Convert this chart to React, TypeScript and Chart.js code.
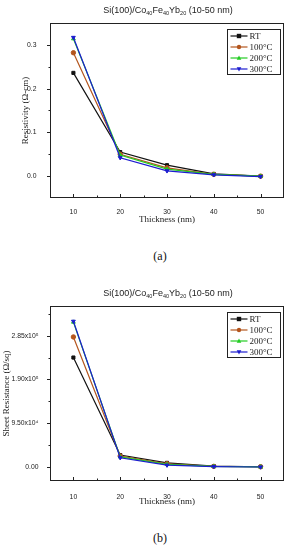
import React, { useEffect, useRef } from 'react';
import { Chart, registerables } from 'chart.js';

Chart.register(...registerables);

// ---------- data ----------
const thickness = [10, 20, 30, 40, 50];
const seriesNames = ['RT', '100°C', '200°C', '300°C'];
const seriesColors = ['#111111', '#b4561e', '#22cc22', '#1c1cd0'];
const seriesMarkers = ['rect', 'circle', 'triangle', 'triangle'];
const seriesRotation = [0, 0, 0, 180];

const resistivityRT = [0.236, 0.055, 0.025, 0.005, 0.0];
const resistivity100 = [0.282, 0.05, 0.019, 0.004, 0.0];
const resistivity200 = [0.314, 0.048, 0.016, 0.004, 0.0];
const resistivity300 = [0.317, 0.042, 0.012, 0.003, -0.001];

const sheetRT = [237800, 25500, 8500, 1200, 0];
const sheet100 = [282600, 23500, 6500, 900, 0];
const sheet200 = [315000, 21500, 5000, 700, -300];
const sheet300 = [316700, 19600, 3500, 500, -500];

const xMajorTicks = [10, 20, 30, 40, 50];
const xMinorTicks = [15, 25, 35, 45];

const resistivityTicks = [0, 0.1, 0.2, 0.3];
const resistivityTickLabels = ['0.0', '0.1', '0.2', '0.3'];
const resistivityMinor = [0.05, 0.15, 0.25];

const sheetTicks = [0, 95000, 190000, 285000];
const sheetTickLabels = ['0.00', '9.50x10⁴', '1.90x10⁵', '2.85x10⁵'];
const sheetMinor = [47500, 142500, 237500, 332500];

// ---------- helpers ----------
function drawMarker(ctx: CanvasRenderingContext2D, style: string, rot: number, x: number, y: number, r: number) {
  ctx.beginPath();
  if (style === 'rect') {
    ctx.rect(x - r, y - r, 2 * r, 2 * r);
  } else if (style === 'circle') {
    ctx.arc(x, y, r, 0, Math.PI * 2);
  } else {
    const s = rot === 180 ? -1 : 1;
    ctx.moveTo(x, y - s * r * 1.1);
    ctx.lineTo(x - r * 1.05, y + s * r * 0.75);
    ctx.lineTo(x + r * 1.05, y + s * r * 0.75);
    ctx.closePath();
  }
  ctx.fill();
}

const framePlugin = {
  id: 'frameTicks',
  afterDatasetsDraw(chart: any, _args: any, opts: any) {
    const { ctx, chartArea: a, scales } = chart;
    ctx.save();
    ctx.strokeStyle = '#222';
    ctx.lineWidth = 1;
    const L = Math.round(a.left) + 0.5;
    const R = Math.round(a.right) - 0.5;
    const T = Math.round(a.top) + 0.5;
    const B = Math.round(a.bottom) - 0.5;
    ctx.strokeRect(L, T, R - L, B - T);
    ctx.beginPath();
    (opts.xMajor || []).forEach((v: number) => {
      const px = Math.round(scales.x.getPixelForValue(v)) + 0.5;
      ctx.moveTo(px, B);
      ctx.lineTo(px, B - 3.5);
    });
    (opts.xMinor || []).forEach((v: number) => {
      const px = Math.round(scales.x.getPixelForValue(v)) + 0.5;
      ctx.moveTo(px, B);
      ctx.lineTo(px, B - 2);
    });
    (opts.yMajor || []).forEach((v: number) => {
      const py = Math.round(scales.y.getPixelForValue(v)) + 0.5;
      ctx.moveTo(L, py);
      ctx.lineTo(L - 3.5, py);
    });
    (opts.yMinor || []).forEach((v: number) => {
      const py = Math.round(scales.y.getPixelForValue(v)) + 0.5;
      ctx.moveTo(L, py);
      ctx.lineTo(L - 2, py);
    });
    ctx.stroke();
    ctx.restore();
  },
};

const boxLegendPlugin = {
  id: 'boxLegend',
  afterDraw(chart: any) {
    const { ctx, chartArea: a } = chart;
    const w = 53;
    const h = 45;
    const left = Math.round(a.right - 4 - w) + 0.5;
    const top = Math.round(a.top + 6) + 0.5;
    ctx.save();
    ctx.fillStyle = '#ffffff';
    ctx.fillRect(left, top, w, h);
    ctx.strokeStyle = '#222';
    ctx.lineWidth = 1;
    ctx.strokeRect(left, top, w, h);
    ctx.font = '9px "Liberation Serif", "Times New Roman", serif';
    ctx.textBaseline = 'middle';
    ctx.textAlign = 'left';
    chart.data.datasets.forEach((ds: any, i: number) => {
      const y = top + 6.5 + i * 11;
      const color = seriesColors[i];
      ctx.strokeStyle = color;
      ctx.fillStyle = color;
      ctx.lineWidth = 1.2;
      ctx.beginPath();
      ctx.moveTo(left + 3, y);
      ctx.lineTo(left + 20, y);
      ctx.stroke();
      drawMarker(ctx, seriesMarkers[i], seriesRotation[i], left + 11.5, y, 2.2);
      ctx.fillStyle = '#222';
      ctx.fillText(ds.label, left + 22, y + 0.5);
    });
    ctx.restore();
  },
};

type PanelProps = {
  canvasTop: number;
  canvasHeight: number;
  plotTop: number;
  plotBottom: number;
  yMin: number;
  yMax: number;
  series: number[][];
  yTicks: number[];
  yTickLabels: string[];
  yMinor: number[];
  yTitle: string;
  yTitleX: number;
  yLabelRight: number;
  xTitleY: number;
  xLabelY: number;
};

function Panel(p: PanelProps) {
  const ref = useRef<HTMLCanvasElement | null>(null);
  useEffect(() => {
    if (!ref.current) return;
    const canvasBottom = p.canvasTop + p.canvasHeight;
    const xAxisHeight = canvasBottom - p.plotBottom;
    const xTitlePad = canvasBottom - p.xTitleY - 5.4;
    const xTickPad = p.xLabelY - p.plotBottom - 4.1;
    const yTitlePad = p.yTitleX - 5.4;
    const datasets = p.series.map((vals, i) => ({
      label: seriesNames[i],
      data: thickness.map((x, j) => ({ x, y: vals[j] })),
      borderColor: seriesColors[i],
      backgroundColor: seriesColors[i],
      pointBorderColor: seriesColors[i],
      pointBackgroundColor: seriesColors[i],
      borderWidth: 1.2,
      pointStyle: seriesMarkers[i],
      pointRotation: seriesRotation[i],
      pointRadius: 2.2,
      pointBorderWidth: 1,
      tension: 0,
      order: 3 - i,
    }));
    const tickFont = { family: '"Liberation Sans", Arial, sans-serif', size: 6.8 };
    const chart = new Chart(ref.current, {
      type: 'line',
      data: { datasets },
      options: {
        animation: false,
        responsive: false,
        maintainAspectRatio: false,
        events: [],
        layout: { padding: { top: p.plotTop - p.canvasTop, right: 3, bottom: 0, left: 0 } },
        plugins: {
          legend: { display: false },
          tooltip: { enabled: false },
          title: { display: false },
          frameTicks: { xMajor: xMajorTicks, xMinor: xMinorTicks, yMajor: p.yTicks, yMinor: p.yMinor },
        } as any,
        scales: {
          x: {
            type: 'linear',
            min: 5,
            max: 55,
            afterBuildTicks: (s: any) => {
              s.ticks = xMajorTicks.map((v) => ({ value: v }));
            },
            afterFit: (s: any) => {
              s.height = xAxisHeight;
            },
            grid: { display: false },
            border: { display: false },
            ticks: {
              autoSkip: false,
              maxRotation: 0,
              padding: xTickPad,
              color: '#222',
              font: tickFont,
              callback: (v: any) => String(v),
            },
            title: {
              display: true,
              text: 'Thickness (nm)',
              color: '#222',
              font: { family: '"Liberation Serif", "Times New Roman", serif', size: 9 },
              padding: { top: 0, bottom: xTitlePad },
            },
          },
          y: {
            type: 'linear',
            min: p.yMin,
            max: p.yMax,
            afterBuildTicks: (s: any) => {
              s.ticks = p.yTicks.map((v) => ({ value: v }));
            },
            afterFit: (s: any) => {
              s.width = 50;
            },
            grid: { display: false },
            border: { display: false },
            ticks: {
              autoSkip: false,
              padding: 50 - p.yLabelRight,
              color: '#222',
              font: tickFont,
              callback: (v: any) => {
                const k = p.yTicks.indexOf(v);
                return k >= 0 ? p.yTickLabels[k] : '';
              },
            },
            title: {
              display: true,
              text: p.yTitle,
              color: '#222',
              font: { family: '"Liberation Serif", "Times New Roman", serif', size: 9 },
              padding: { top: yTitlePad, bottom: 0 },
            },
          },
        },
      } as any,
      plugins: [framePlugin, boxLegendPlugin],
    });
    return () => chart.destroy();
  }, []);
  return (
    <canvas
      ref={ref}
      width={289}
      height={p.canvasHeight}
      style={{ position: 'absolute', left: 0, top: p.canvasTop, width: 289, height: p.canvasHeight }}
    />
  );
}

function TitleText({ centerY }: { centerY: number }) {
  const sub = { fontSize: '5.5px', verticalAlign: '-1.5px', lineHeight: '0' } as React.CSSProperties;
  return (
    <div
      style={{
        position: 'absolute',
        left: 68,
        width: 200,
        top: centerY - 6,
        height: 12,
        lineHeight: '12px',
        textAlign: 'center',
        fontFamily: '"Liberation Sans", Arial, sans-serif',
        fontSize: 9,
        color: '#222',
        whiteSpace: 'nowrap',
        zIndex: 2,
      }}
    >
      Si(100)/Co<sub style={sub}>40</sub>Fe<sub style={sub}>40</sub>Yb<sub style={sub}>20</sub> (10-50 nm)
    </div>
  );
}

function Caption({ text, centerY }: { text: string; centerY: number }) {
  return (
    <div
      style={{
        position: 'absolute',
        left: 110,
        width: 100,
        top: centerY - 7,
        height: 14,
        lineHeight: '14px',
        textAlign: 'center',
        fontFamily: '"Liberation Serif", "Times New Roman", serif',
        fontSize: 12,
        color: '#111',
      }}
    >
      {text}
    </div>
  );
}

export default function App() {
  return (
    <div style={{ position: 'absolute', left: 0, top: 0, width: 289, height: 550, background: '#fff', overflow: 'hidden' }}>
      <Panel
        canvasTop={0}
        canvasHeight={230}
        plotTop={23}
        plotBottom={198}
        yMin={-0.05}
        yMax={0.35}
        series={[resistivityRT, resistivity100, resistivity200, resistivity300]}
        yTicks={resistivityTicks}
        yTickLabels={resistivityTickLabels}
        yMinor={resistivityMinor}
        yTitle="Resistivity (Ω-cm)"
        yTitleX={25.5}
        yLabelRight={44.5}
        xTitleY={219.5}
        xLabelY={204.5}
      />
      <TitleText centerY={10} />
      <Caption text="(a)" centerY={256} />
      <Panel
        canvasTop={280}
        canvasHeight={230}
        plotTop={306}
        plotBottom={481}
        yMin={-31000}
        yMax={350000}
        series={[sheetRT, sheet100, sheet200, sheet300]}
        yTicks={sheetTicks}
        yTickLabels={sheetTickLabels}
        yMinor={sheetMinor}
        yTitle="Sheet Resistance (Ω/sq)"
        yTitleX={7}
        yLabelRight={46.5}
        xTitleY={502}
        xLabelY={489}
      />
      <TitleText centerY={293} />
      <Caption text="(b)" centerY={538} />
    </div>
  );
}
